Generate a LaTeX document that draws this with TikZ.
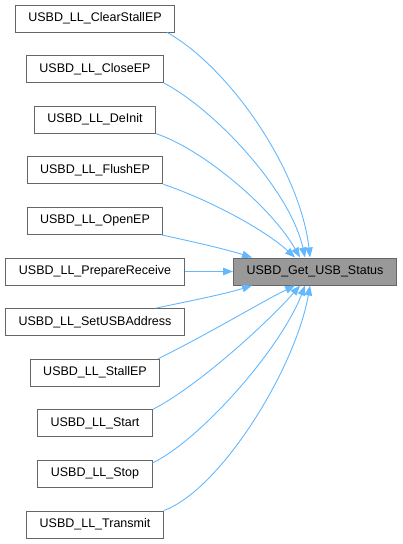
\documentclass[tikz,border=0pt]{standalone}
\usepackage{fontspec}
\setmainfont{Liberation Sans}
\usetikzlibrary{arrows.meta,calc}
\definecolor{edgeblue}{HTML}{63B8FF}
\definecolor{boxgray}{HTML}{666666}
\definecolor{mainfill}{HTML}{999999}
\tikzset{
  fnbox/.style={draw=boxgray,line width=1pt,fill=white,minimum height=27pt,inner xsep=13pt,inner ysep=0pt,font=\fontsize{12.5}{14}\selectfont,anchor=center},
  mainbox/.style={fnbox,fill=mainfill},
  calledge/.style={draw=edgeblue,line width=0.9pt,-{Triangle[length=10pt,width=7.5pt]}}
}
\begin{document}
\begin{tikzpicture}[x=1pt,y=-1pt]
\useasboundingbox (0,0) rectangle (403,544);
\node[fnbox] (n1) at (95,18.5) {USBD\_LL\_ClearStallEP};
\node[fnbox] (n2) at (95,69.1) {USBD\_LL\_CloseEP};
\node[fnbox] (n3) at (95,119.7) {USBD\_LL\_DeInit};
\node[fnbox] (n4) at (95,170.3) {USBD\_LL\_FlushEP};
\node[fnbox] (n5) at (95,220.9) {USBD\_LL\_OpenEP};
\node[fnbox] (n6) at (95,271.5) {USBD\_LL\_PrepareReceive};
\node[fnbox] (n7) at (95,322.1) {USBD\_LL\_SetUSBAddress};
\node[fnbox] (n8) at (95,372.7) {USBD\_LL\_StallEP};
\node[fnbox] (n9) at (95,423.3) {USBD\_LL\_Start};
\node[fnbox] (n10) at (95,473.9) {USBD\_LL\_Stop};
\node[fnbox] (n11) at (95,524.5) {USBD\_LL\_Transmit};
\node[mainbox] (m) at (315,271.5) {USBD\_Get\_USB\_Status};
% top edges
\draw[calledge] ($(n1.south east)+(-8,0)$) .. controls (230,68) and (300,170) .. ($(m.north west)+(77,0)$);
\draw[calledge] ($(n2.south east)+(0,0)$) .. controls (215,110) and (290,190) .. ($(m.north west)+(72,0)$);
\draw[calledge] ($(n3.south east)+(0,0)$) .. controls (200,148) and (270,205) .. ($(m.north west)+(67,0)$);
\draw[calledge] ($(n4.south east)+(0,0)$) .. controls (210,200) and (265,230) .. ($(m.north west)+(62,0)$);
\draw[calledge] ($(n5.south east)+(-2,0)$) .. controls (190,241) and (225,249) .. ($(m.north west)+(19,0)$);
\draw[calledge] (n6.east) -- (m.west);
% bottom edges
\draw[calledge] ($(n7.north east)+(-29,0)$) .. controls (190,301) and (225,294) .. ($(m.south west)+(19,0)$);
\draw[calledge] ($(n8.north east)+(-2,0)$) .. controls (210,333) and (265,300) .. ($(m.south west)+(62,0)$);
\draw[calledge] (n9.north east) .. controls (200,385) and (270,320) .. ($(m.south west)+(67,0)$);
\draw[calledge] ($(n10.north east)+(0,3)$) .. controls (200,440) and (280,350) .. ($(m.south west)+(72,0)$);
\draw[calledge] (n11.north east) .. controls (220,490) and (295,370) .. ($(m.south west)+(77,0)$);
\end{tikzpicture}
\end{document}
